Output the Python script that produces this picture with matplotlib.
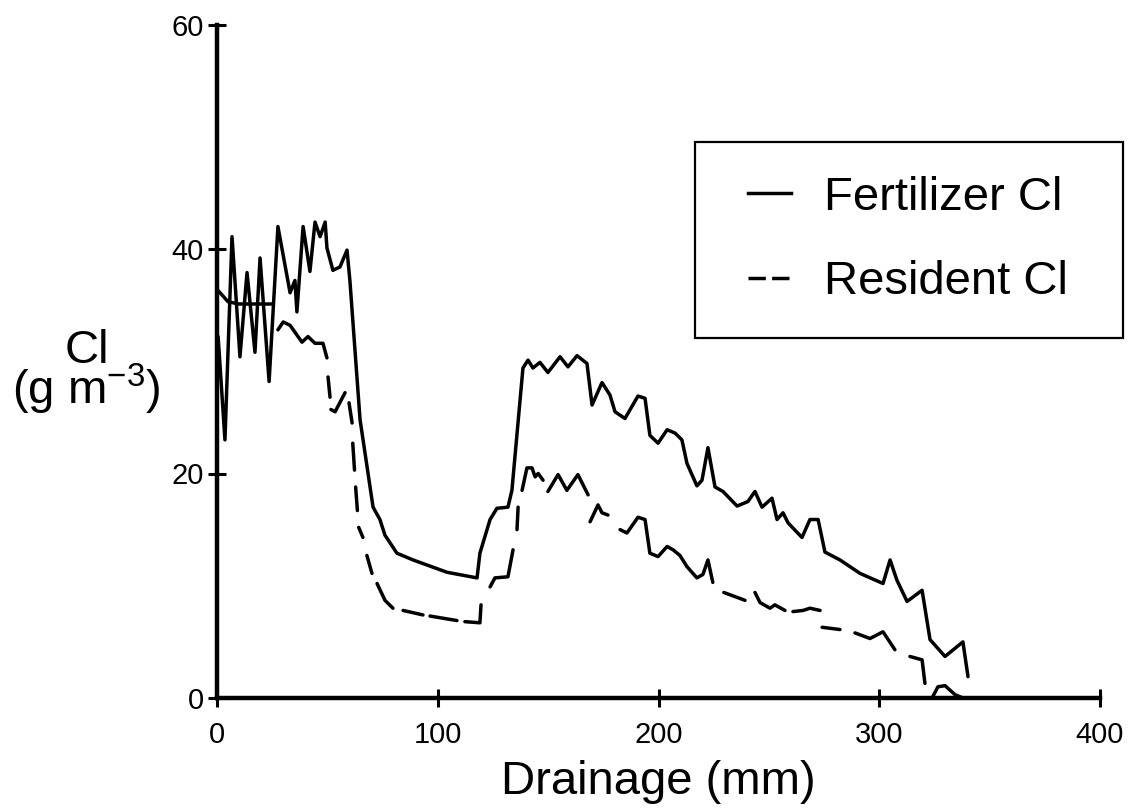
import numpy as np
import matplotlib
matplotlib.use("Agg")
import matplotlib.pyplot as plt
from matplotlib.lines import Line2D
from matplotlib.patches import Rectangle

plt.rcParams['font.family'] = ['Liberation Sans', 'DejaVu Sans']
plt.rcParams['mathtext.fontset'] = 'custom'
plt.rcParams['mathtext.rm'] = 'Liberation Sans'
plt.rcParams['mathtext.it'] = 'Liberation Sans'

nan = np.nan

# fertilizer Cl (solid line), drainage in mm / Cl in g m-3
fert_x = [0.5, 3.6, 6.8, 10.4, 13.6, 17.2, 19.5, 23.6, 27.6, 33.1,
          35.3, 36.2, 39.0, 42.1, 44.4, 46.7, 49.0, 49.8, 52.5, 55.7,
          58.9, 60.2, 64.8, 70.7, 73.8, 76.1, 81.5, 88.8, 104.2, 117.8,
          119.1, 123.7, 126.8, 131.8, 133.6, 138.6, 140.9, 143.1, 146.3, 149.9,
          155.4, 159.0, 163.1, 167.6, 169.9, 174.4, 178.0, 180.3, 184.8, 190.7,
          193.9, 196.1, 199.8, 203.9, 207.5, 210.6, 212.9, 217.4, 219.7, 222.4,
          225.6, 229.2, 235.6, 240.5, 243.7, 246.9, 251.4, 253.7, 256.4, 258.7,
          265.0, 268.6, 272.3, 275.4, 282.2, 291.3, 301.7, 304.9, 308.0, 312.6,
          319.4, 323.0, 329.8, 337.9, 340.2]
fert_y = [32.2, 23.0, 41.1, 30.4, 37.9, 30.8, 39.2, 28.2, 42.0, 36.1,
          37.2, 34.4, 42.0, 38.0, 42.4, 41.1, 42.4, 40.1, 38.1, 38.4,
          39.9, 37.2, 24.8, 17.0, 15.9, 14.5, 12.9, 12.3, 11.2, 10.7,
          12.9, 15.9, 16.9, 17.0, 18.5, 29.4, 30.1, 29.4, 29.9, 29.0,
          30.4, 29.5, 30.5, 29.8, 26.1, 28.1, 27.0, 25.5, 24.9, 26.9,
          26.7, 23.4, 22.7, 23.9, 23.6, 23.0, 20.9, 18.9, 19.4, 22.3,
          18.8, 18.4, 17.1, 17.5, 18.4, 17.0, 17.8, 15.9, 16.5, 15.6,
          14.3, 15.9, 15.9, 13.0, 12.3, 11.1, 10.2, 12.3, 10.5, 8.6,
          9.6, 5.2, 3.7, 5.0, 1.9]

# resident Cl (broken line), nan = gap in the trace
res_x = [0.5, 5.0, 10.0, 24.9, nan,
         27.6, 30.0, 33.1, 38.5, 41.2, 44.4, 48.0, 49.8, nan,
         50.3, 51.2, nan,
         51.6, 53.5, 58.0, nan,
         59.8, 61.2, nan,
         61.5, 62.3, nan,
         62.8, 63.6, nan,
         64.2, 66.1, nan,
         67.9, 70.2, nan,
         72.5, 76.1, 79.7, nan,
         84.3, 93.3, nan,
         96.5, 108.7, nan,
         112.3, 119.1, 119.6, nan,
         123.7, 125.9, 131.8, 134.1, nan,
         135.9, 136.4, nan,
         138.2, 140.4, 142.7, 144.1, 145.5, 147.7, nan,
         149.9, 154.5, 158.5, 163.5, 168.1, nan,
         169.0, 172.6, 174.4, 177.1, nan,
         182.6, 185.7, 190.7, 193.9, 196.1, 199.8, 203.9, 206.6, 209.7, 212.9,
         217.4, 220.1, 222.4, 224.6, nan,
         229.6, 239.2, nan,
         243.7, 246.0, 250.5, 252.7, 257.3, nan,
         260.9, 265.5, 268.6, 273.2, nan,
         274.1, 282.2, nan,
         289.0, 295.8, 301.7, 307.1, nan,
         313.9, 319.4, 320.7, nan,
         323.9, 326.6, 329.8, 334.3, 337.9]
res_y = [36.3, 35.3, 35.1, 35.1, nan,
         32.8, 33.5, 33.2, 31.7, 32.2, 31.6, 31.6, 30.3, nan,
         28.6, 26.8, nan,
         25.7, 25.5, 27.2, nan,
         26.3, 24.5, nan,
         22.7, 20.3, nan,
         18.8, 16.7, nan,
         15.2, 14.3, nan,
         12.7, 11.1, nan,
         10.2, 8.7, 8.0, nan,
         7.8, 7.4, nan,
         7.3, 6.9, nan,
         6.8, 6.7, 8.3, nan,
         9.9, 10.7, 10.8, 13.2, nan,
         15.0, 17.0, nan,
         18.5, 20.5, 20.5, 19.7, 20.0, 19.4, nan,
         18.4, 19.9, 18.5, 19.9, 18.1, nan,
         15.7, 17.2, 16.5, 16.3, nan,
         15.0, 14.7, 16.1, 15.9, 12.9, 12.6, 13.5, 13.2, 12.7, 11.7,
         10.7, 11.0, 12.3, 10.3, nan,
         9.4, 8.7, nan,
         9.4, 8.5, 8.0, 8.3, 7.8, nan,
         7.7, 7.8, 8.0, 7.8, nan,
         6.3, 6.1, nan,
         5.8, 5.3, 5.9, 4.3, nan,
         3.7, 3.4, 1.3, nan,
         0.0, 1.0, 1.1, 0.3, 0.0]

x_ticks = [0, 100, 200, 300, 400]
y_ticks = [0, 20, 40, 60]
series_names = ["Fertilizer Cl", "Resident Cl"]

W, H = 1138, 811
fig = plt.figure(figsize=(W / 100, H / 100), dpi=100)
ax = fig.add_axes([217 / W, 1 - 698 / H, (1100 - 217) / W, (698 - 24.5) / H])

lw = 2.5
ax.plot(fert_x, fert_y, color='black', lw=lw, solid_joinstyle='round', solid_capstyle='round')
ax.plot(res_x, res_y, color='black', lw=lw, solid_joinstyle='round', solid_capstyle='round')

ax.set_xlim(0, 400)
ax.set_ylim(0, 60)
ax.set_xticks(x_ticks)
ax.set_yticks(y_ticks)
for s in ['top', 'right']:
    ax.spines[s].set_visible(False)
for s in ['left', 'bottom']:
    ax.spines[s].set_linewidth(3.2)
ax.tick_params(direction='inout', length=13, width=2.2, labelsize=21, pad=3)
ax.tick_params(axis='x', pad=10)

ax.set_xlabel("Drainage (mm)", fontsize=34, labelpad=8)
fig.text(0.076, 1 - 373 / H, "Cl\n(g m$^{-3}$)", fontsize=34,
         ha='center', va='center', linespacing=0.74)

# legend: box drawn separately, entries placed inside it
fig.patches.append(Rectangle((695 / W, 1 - 338 / H), 428 / W, 196 / H,
                             transform=fig.transFigure, fill=True, facecolor='white',
                             edgecolor='black', lw=1.6, zorder=3))
handles = [Line2D([], [], color='black', lw=lw),
           Line2D([], [], color='black', lw=lw, linestyle=(0, (5.0, 1.8)))]
leg = fig.legend(handles, series_names, loc='upper left',
                 bbox_to_anchor=(748 / W, 1 - 176 / H), bbox_transform=fig.transFigure,
                 fontsize=34, frameon=False, borderpad=0, borderaxespad=0,
                 handlelength=0.9, handletextpad=0.7, labelspacing=0.85)
leg.set_zorder(4)

fig.savefig("out.png", dpi=100)
